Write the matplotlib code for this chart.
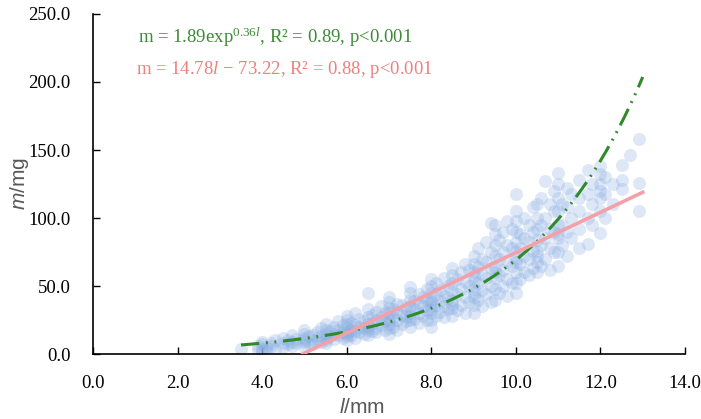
import numpy as np
import matplotlib
matplotlib.use('Agg')
import matplotlib.pyplot as plt

plt.rcParams['font.family'] = 'Liberation Serif'
plt.rcParams['mathtext.fontset'] = 'custom'
plt.rcParams['mathtext.rm'] = 'Liberation Serif'
plt.rcParams['mathtext.it'] = 'Liberation Serif:italic'
plt.rcParams['mathtext.sf'] = 'Liberation Sans:italic'

# body length l (mm) -> list of body mass m (mg)
points = {
    3.5: [4], 3.9: [3, 6], 4.0: [2, 4, 7, 9], 4.1: [5, 3], 4.2: [6, 8],
    4.3: [4, 10], 4.5: [5, 8, 12], 4.6: [7, 10], 4.7: [6, 9, 14], 4.8: [8, 11],
    5.0: [6, 9, 12, 15, 18, 10], 5.1: [8, 13], 5.2: [10, 14, 7], 5.3: [11, 16],
    5.4: [9, 13, 19], 5.5: [10, 12, 15, 18, 22, 8], 5.6: [13, 17],
    5.7: [11, 15, 20], 5.8: [14, 18, 24], 5.9: [12, 16, 21],
    6.0: [10, 13, 16, 19, 22, 25, 28, 15], 6.1: [14, 18, 23], 6.2: [12, 17, 21, 30],
    6.3: [16, 20, 26], 6.4: [15, 19, 24], 6.5: [14, 18, 22, 27, 33, 45, 20],
    6.6: [17, 23, 29], 6.7: [19, 25, 31, 16], 6.8: [21, 27, 35], 6.9: [18, 24, 30],
    7.0: [15, 19, 22, 26, 30, 34, 38, 42, 24], 7.1: [20, 27, 33], 7.2: [18, 25, 31, 37],
    7.3: [22, 29, 36], 7.4: [24, 28, 34], 7.5: [20, 25, 30, 35, 40, 45, 49, 28],
    7.6: [26, 33, 39], 7.7: [23, 30, 37, 44], 7.8: [28, 35, 42], 7.9: [25, 32, 40, 48],
    8.0: [20, 25, 30, 35, 40, 45, 50, 55, 33, 38], 8.1: [28, 36, 44, 52],
    8.2: [31, 39, 47], 8.3: [27, 35, 43, 56], 8.4: [33, 41, 50],
    8.5: [28, 34, 40, 46, 52, 58, 63, 37], 8.6: [32, 44, 55], 8.7: [36, 48, 60],
    8.8: [30, 42, 53, 66], 8.9: [38, 50, 62],
    9.0: [30, 36, 42, 48, 54, 60, 66, 72, 45, 57], 9.1: [40, 52, 64, 78],
    9.2: [35, 47, 59, 70], 9.3: [44, 56, 68, 82], 9.4: [38, 50, 63, 75, 96],
    9.5: [40, 48, 56, 64, 72, 80, 88, 95, 60], 9.6: [45, 58, 70, 84],
    9.7: [50, 62, 75, 90], 9.8: [43, 55, 68, 80, 98], 9.9: [52, 65, 78, 92],
    10.0: [45, 52, 60, 68, 75, 82, 90, 98, 105, 118, 70], 10.1: [55, 66, 78, 88],
    10.2: [60, 72, 85, 100], 10.3: [58, 70, 82, 95], 10.4: [63, 76, 90, 108],
    10.5: [60, 68, 76, 84, 92, 100, 110, 72], 10.6: [65, 80, 95, 115],
    10.7: [70, 85, 100, 127], 10.8: [62, 78, 92, 110], 10.9: [75, 90, 105, 120],
    11.0: [65, 75, 85, 95, 105, 115, 125, 133, 88], 11.1: [80, 95, 110],
    11.2: [72, 90, 108, 122], 11.3: [85, 100, 118], 11.5: [78, 92, 105, 115, 128],
    11.7: [81, 100, 118, 135], 11.8: [95, 110, 125],
    12.0: [89, 105, 115, 125, 132, 138, 120], 12.1: [100, 118, 130],
    12.3: [110, 125], 12.5: [121, 139, 128], 12.7: [146], 12.9: [105, 126, 158],
}

# fitted trendlines as printed on the chart
exp_a, exp_b = 1.89, 0.36
lin_k, lin_c = 14.78, -73.22
exp_range = (3.5, 13.0)
lin_range = (4.96, 13.0)

length = []
mass = []
for l, ms in points.items():
    for m in ms:
        length.append(l)
        mass.append(m)

fig = plt.figure(figsize=(7.01, 4.19), dpi=100)
ax = fig.add_axes([0.1327, 0.1551, 0.8445, 0.8115])

ax.scatter(length, mass, s=88, color='#86ace2', alpha=0.28, linewidths=0, zorder=2)

xe = np.linspace(exp_range[0], exp_range[1], 200)
ax.plot(xe, exp_a * np.exp(exp_b * xe), color='#2f8a2a', lw=2.2,
        dashes=(6, 2.2, 0.6, 2.2, 0.6, 2.2), zorder=3)

xl = np.array(lin_range)
ax.plot(xl, lin_k * xl + lin_c, color='#f4a0a8', lw=2.6, zorder=4)

ax.text(1.06, 233, r'm = 1.89exp$^{0.36\mathit{l}}$, R² = 0.89, p<0.001',
        color='#3d8b37', fontsize=13.5, va='center')
ax.text(1.02, 209, r'm = 14.78$\mathit{l}$ − 73.22, R² = 0.88, p<0.001',
        color='#f08080', fontsize=13.5, va='center')

ax.set_xlim(0, 14)
ax.set_ylim(0, 250)
ax.set_xticks(np.arange(0, 14.1, 2))
ax.set_yticks(np.arange(0, 251, 50))
ax.set_xticklabels(['%.1f' % v for v in np.arange(0, 14.1, 2)])
ax.set_yticklabels(['%.1f' % v for v in np.arange(0, 251, 50)])
ax.tick_params(direction='in', length=5, width=1, labelsize=13.5)
ax.tick_params(axis='x', pad=15)
ax.tick_params(axis='y', pad=16)
for s in ['top', 'right']:
    ax.spines[s].set_visible(False)
for s in ['left', 'bottom']:
    ax.spines[s].set_linewidth(1.2)

ax.set_xlabel(r'$\mathsf{l}$/mm', fontfamily='Liberation Sans', fontsize=15,
              color='#595959')
ax.set_ylabel(r'$\mathsf{m}$/mg', fontfamily='Liberation Sans', fontsize=15,
              color='#595959')
ax.xaxis.set_label_coords(0.455, -0.128)
ax.yaxis.set_label_coords(-0.105, 0.5)

fig.savefig('out.png', dpi=100)
